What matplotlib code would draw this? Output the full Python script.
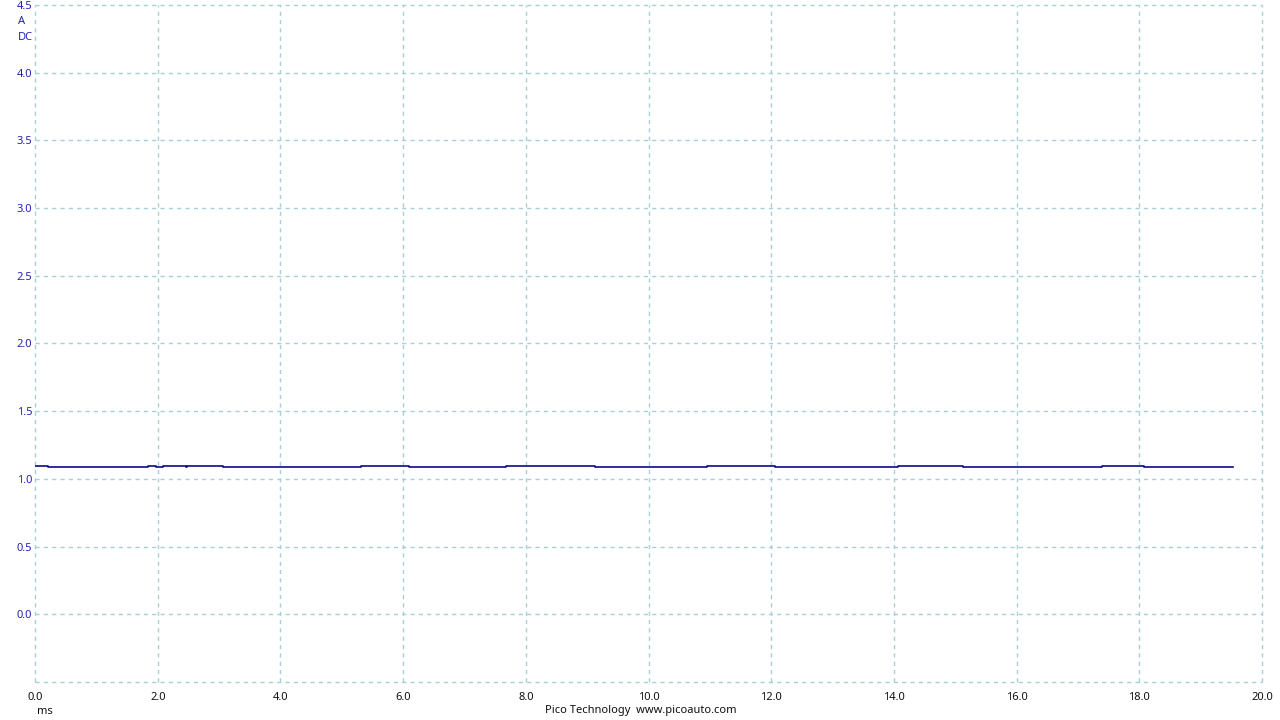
import matplotlib
matplotlib.use("Agg")
import matplotlib.pyplot as plt
import numpy as np

# Step change times (ms) and current levels (A)
step_times = [0.0, 0.22, 1.84, 1.98, 2.08, 2.46, 2.48, 3.07, 5.31, 6.09, 7.67,
              9.12, 10.95, 12.07, 14.06, 15.13, 17.39, 18.08, 19.52]
step_levels = [1.097, 1.089, 1.097, 1.089, 1.097, 1.089, 1.097, 1.089, 1.097,
               1.089, 1.097, 1.089, 1.097, 1.089, 1.097, 1.089, 1.097, 1.089, 1.089]

x_ticks = [0, 2, 4, 6, 8, 10, 12, 14, 16, 18, 20]
x_tick_labels = ["0.0", "2.0", "4.0", "6.0", "8.0", "10.0", "12.0", "14.0", "16.0", "18.0", "20.0"]
y_ticks = [-0.5, 0.0, 0.5, 1.0, 1.5, 2.0, 2.5, 3.0, 3.5, 4.0, 4.5]
y_tick_labels = ["", "0.0", "0.5", "1.0", "1.5", "2.0", "2.5", "3.0", "3.5", "4.0", "4.5"]

plt.rcParams['font.family'] = ['Noto Sans', 'DejaVu Sans']
FS = 8

fig = plt.figure(figsize=(12.8, 7.2), dpi=100)
ax = fig.add_axes([35/1280, 1-682/720, (1262-35)/1280, (682-5)/720])

ax.plot(step_times, step_levels, drawstyle='steps-post', color='#0a0a85', lw=1.2)

ax.set_xlim(0, 20)
ax.set_ylim(-0.5, 4.5)
ax.set_xticks(x_ticks)
ax.set_xticklabels(x_tick_labels, fontsize=FS, color='#111111')
ax.set_yticks(y_ticks)
ax.set_yticklabels(y_tick_labels, fontsize=FS, color='#2323b0')
ax.tick_params(axis='both', length=0, pad=2)
ax.tick_params(axis='x', pad=7)
for s in ax.spines.values():
    s.set_visible(False)
ax.grid(True, color='#a6d0d8', linestyle=(0, (3, 3)), linewidth=1.0)
for gl in ax.get_xgridlines() + ax.get_ygridlines():
    gl.set_clip_on(False)

fig.text(18/1280, 1-21/720, "A", fontsize=FS, color='#2323b0', va='center', ha='left')
fig.text(18/1280, 1-38/720, "DC", fontsize=FS, color='#2323b0', va='center', ha='left')
fig.text(37/1280, 1-712/720, "ms", fontsize=FS, color='#111111', va='center', ha='left')
fig.text(641/1280, 1-711/720, "Pico Technology  www.picoauto.com", fontsize=FS,
         color='#111111', va='center', ha='center')

fig.savefig("out.png", dpi=100)
